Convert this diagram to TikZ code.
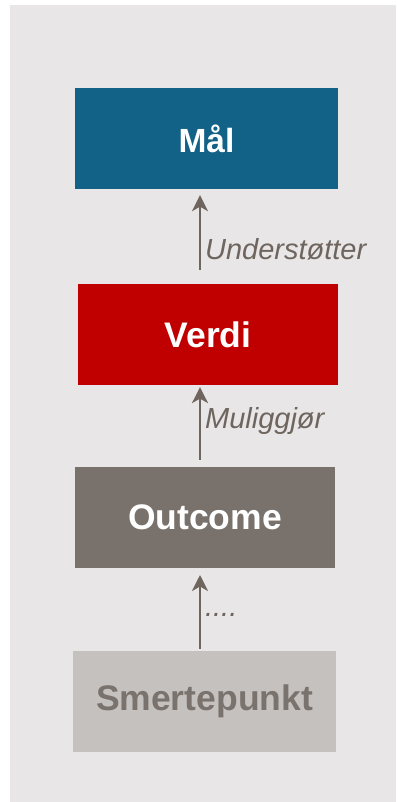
\documentclass[tikz,border=0pt]{standalone}
\usepackage{fontspec}
\setmainfont{Liberation Sans}
\usepackage{tikz}
\usetikzlibrary{
  positioning,
  arrows.meta
}
\definecolor{bgGray}{RGB}{232,230,231}
\definecolor{malBlue}{RGB}{18,97,134}
\definecolor{verdiRed}{RGB}{192,0,0}
\definecolor{outGray}{RGB}{121,113,107}
\definecolor{smerteFill}{RGB}{197,193,190}
\definecolor{smerteText}{RGB}{122,114,108}
\definecolor{flowGray}{RGB}{110,101,94}

\begin{document}
\begin{tikzpicture}[x=1pt, y=-1pt,
    box/.style = {rectangle, inner sep=0pt, minimum width=263pt, minimum height=101pt, text=white, font=\fontsize{35.5}{36}\selectfont\bfseries},
    flow/.style = {draw=flowGray, line width=2.2pt, -{Stealth[length=16pt, width=16pt, inset=4.5pt]}},
    lbl/.style = {right, inner sep=4pt, text=flowGray, font=\fontsize{29}{29}\selectfont\itshape}]
          % background
          \useasboundingbox (0,0) rectangle (398,802);
          \fill[bgGray] (10,5) rectangle (396,802);

          % nodes
          \node[box, fill=malBlue, font=\fontsize{33.5}{34}\selectfont\bfseries] (mal) at (206.5,138.5) {Mål};
          \node[box, fill=verdiRed, minimum width=260pt, below=95pt of mal, xshift=1.5pt] (verdi) {Verdi};
          \node[box, fill=outGray, minimum width=260pt, below=81pt of verdi, xshift=-3pt] (outcome) {Outcome};
          \node[box, fill=smerteFill, text=smerteText, below=83pt of outcome, xshift=-0.5pt] (smerte) {Smertepunkt};

          % connections
          \draw[flow, shorten <=14pt, shorten >=6pt] ([xshift=-8pt]verdi.north) -- node[lbl, pos=.37]{Understøtter} ([xshift=-6.5pt]mal.south);
          \draw[flow, shorten <=7pt, shorten >=1.5pt] ([xshift=-5pt]outcome.north) -- node[lbl, pos=.56]{Muliggjør} ([xshift=-8pt]verdi.south);
          \draw[flow, shorten <=2pt, shorten >=7pt] ([xshift=-4.5pt]smerte.north) -- node[lbl, pos=.43]{....} ([xshift=-5pt]outcome.south);
        \end{tikzpicture}
\end{document}
